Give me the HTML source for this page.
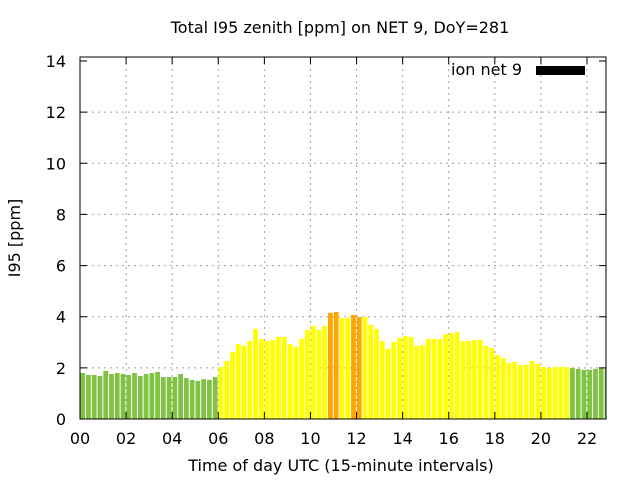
<!DOCTYPE html>
<html><head><meta charset="utf-8"><style>body{margin:0;background:#fff}svg{display:block;font-family:"DejaVu Sans","Liberation Sans",sans-serif}</style></head>
<body>
<svg id="chart" width="640" height="480" xmlns="http://www.w3.org/2000/svg">
<rect width="640" height="480" fill="#fff"/>
<text x="340" y="33" text-anchor="middle" font-size="16">Total I95 zenith [ppm] on NET 9, DoY=281</text>
<g id="grid"></g>
<g id="bars"></g>
<g id="axes"></g>
<text transform="translate(20,238) rotate(-90)" text-anchor="middle" font-size="16">I95 [ppm]</text>
<text x="341" y="471" text-anchor="middle" font-size="16">Time of day UTC (15-minute intervals)</text>
<g>
<text x="522" y="75" text-anchor="end" font-size="16">ion net 9</text>
<rect x="536" y="66" width="49" height="9" fill="#000"/>
</g>
</svg>
<script>
const values=[1.80,1.72,1.72,1.68,1.88,1.76,1.80,1.76,1.72,1.80,1.68,1.76,1.80,1.84,1.64,1.64,1.64,1.76,1.60,1.53,1.49,1.56,1.53,1.64,
2.03,2.27,2.62,2.93,2.86,3.05,3.52,3.13,3.05,3.09,3.21,3.21,2.93,2.82,3.13,3.48,3.64,3.48,3.64,4.15,4.19,3.95,3.95,4.07,3.99,3.99,3.68,3.52,3.05,2.74,3.01,3.17,3.25,3.21,2.86,2.89,3.13,
3.13,3.13,3.32,3.36,3.40,3.05,3.05,3.09,3.09,2.86,2.78,2.50,2.39,2.19,2.23,2.11,2.11,2.27,2.15,2.03,1.99,2.03,2.03,2.03,
1.99,1.96,1.92,1.92,1.96,1.99,1.96];
const levels=[0,0,0,0,0,0,0,0,0,0,0,0,0,0,0,0,0,0,0,0,0,0,0,0,
1,1,1,1,1,1,1,1,1,1,1,1,1,1,1,1,1,1,1,2,2,1,1,2,2,1,1,1,1,1,1,1,1,1,1,1,1,
1,1,1,1,1,1,1,1,1,1,1,1,1,1,1,1,1,1,1,1,1,1,1,1,
0,0,0,0,0,0,0];
const yTicks=[0,2,4,6,8,10,12,14];
const xTicks=["00","02","04","06","08","10","12","14","16","18","20","22"];
const palette=["#80c342","#ffff00","#ffa500"];
const L=80,R=606,T=57,B=419;
const xs=h=>L+h*(587-L)/22;
const ys=v=>B-v*(B-61)/14;
const NS="http://www.w3.org/2000/svg";
function mk(tag,attrs,parent){const e=document.createElementNS(NS,tag);for(const k in attrs)e.setAttribute(k,attrs[k]);parent.appendChild(e);return e;}
const grid=document.getElementById('grid'),bars=document.getElementById('bars'),axes=document.getElementById('axes');
yTicks.forEach((t,i)=>{const y=ys(t);
 if(t>0&&t<14){const g=mk('line',{x1:L,x2:R,y1:y,y2:y,stroke:'#a0a0a0','stroke-dasharray':'2,4'},grid);
 
 }
 const tk=mk('path',{d:`M${L},${y}h7M${R},${y}h-7`,stroke:'#000'},axes);
 
 
 const tx=mk('text',{x:L-14,y:y+6,'text-anchor':'end','font-size':16},axes);tx.textContent=t;
 
 
});
xTicks.forEach((t,i)=>{const x=xs(+t);
 if(+t>0){const g=mk('line',{x1:x,x2:x,y1:T,y2:B,stroke:'#a0a0a0','stroke-dasharray':'2,4'},grid);
 
 }
 const tk=mk('path',{d:`M${x},${B}v-7M${x},${T}v7`,stroke:'#000'},axes);
 
 
 const tx=mk('text',{x:x,y:B+25,'text-anchor':'middle','font-size':16},axes);tx.textContent=t;
 
 
});
const step=xs(0.25)-xs(0);
values.forEach((v,i)=>{const x=xs(i*0.25)+0.3;const y=ys(v);
 const w=Math.min(step-1,R-x);
 const r=mk('rect',{x:x,y:y,width:w,height:B-y,fill:palette[levels[i]]},bars);
 
 
});
const f=mk('rect',{x:L,y:T,width:R-L,height:B-T,fill:'none',stroke:'#000','stroke-width':1},axes);


</script>
</body></html>
